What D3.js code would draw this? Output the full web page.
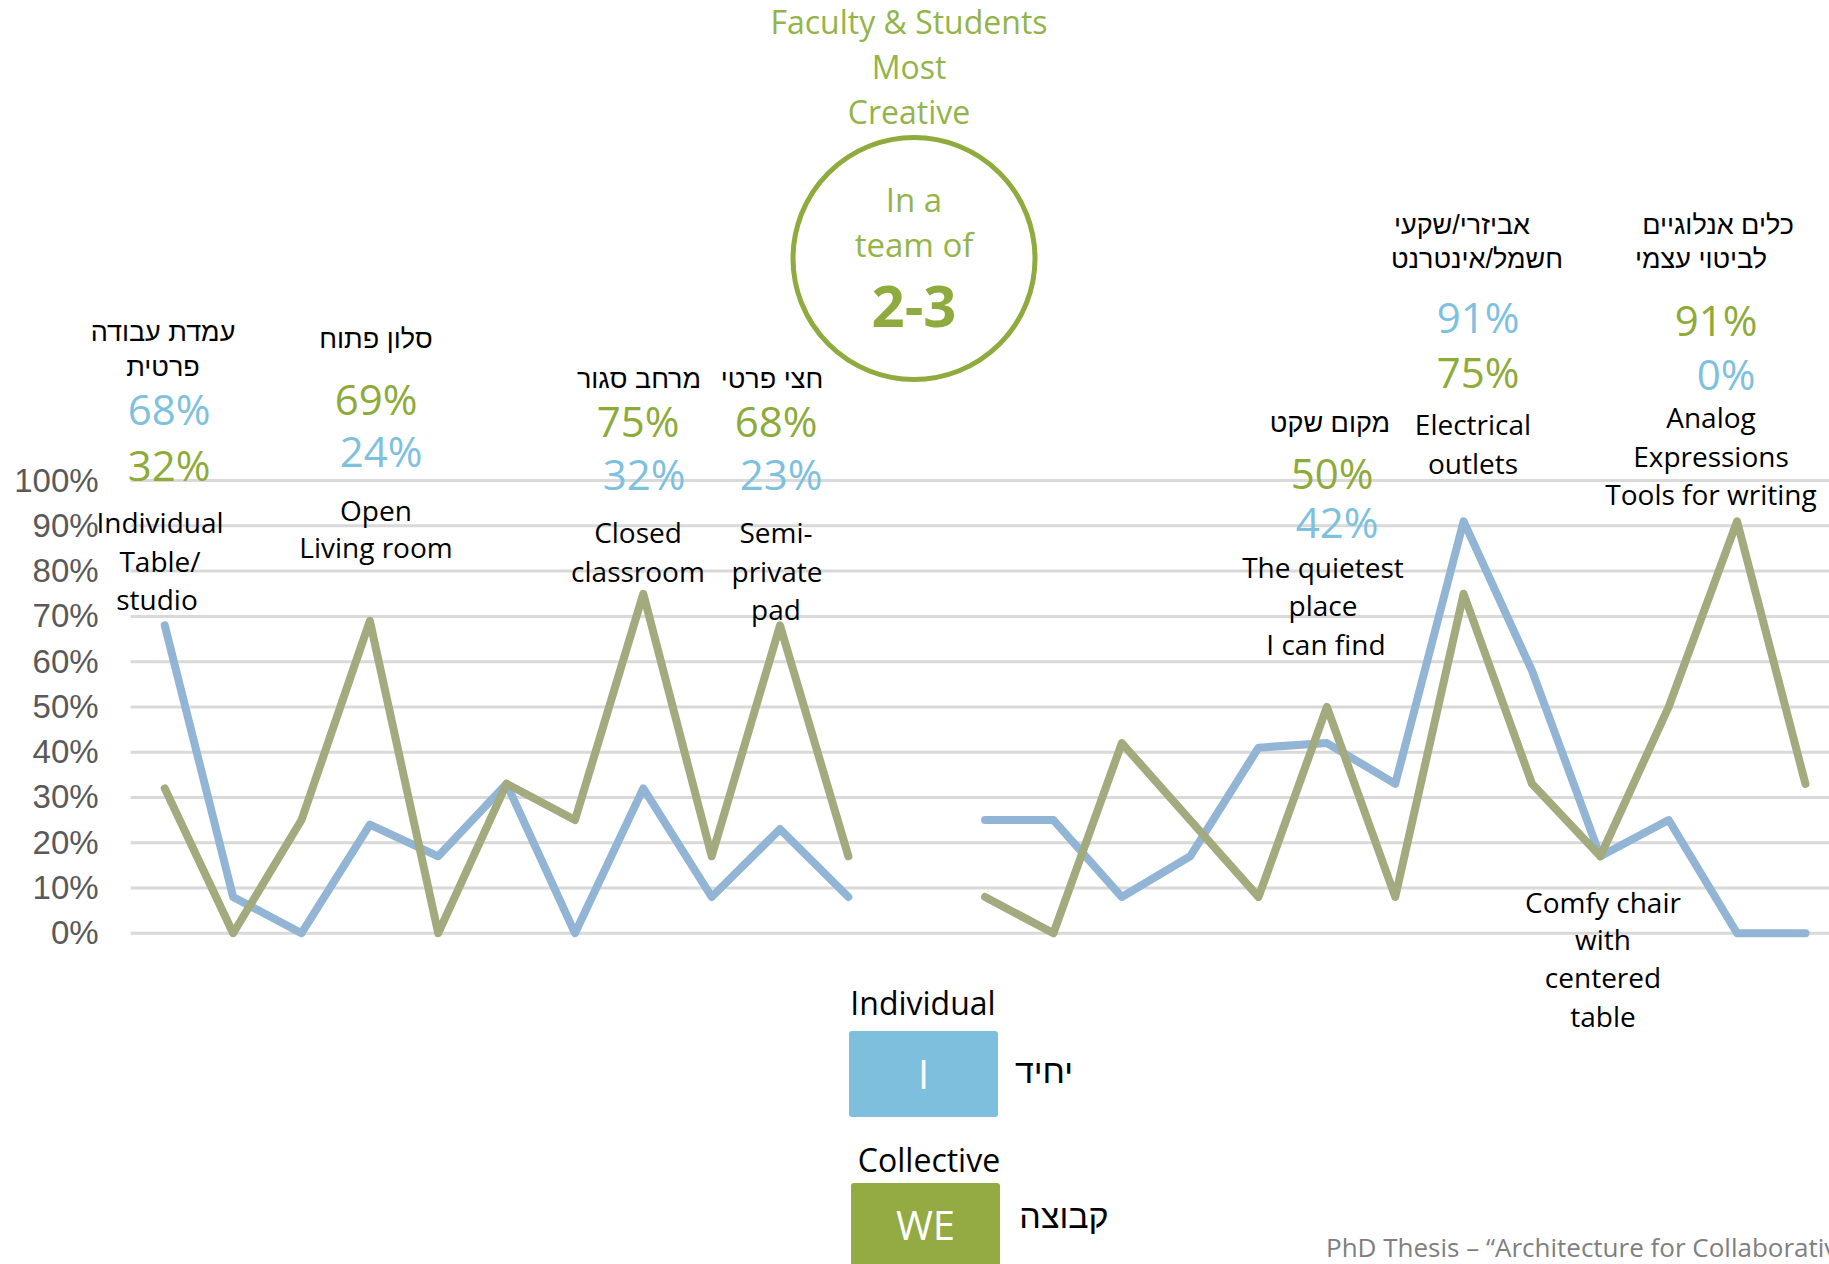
<!DOCTYPE html>
<html>
<head>
<meta charset="utf-8">
<script src="https://cdn.jsdelivr.net/npm/d3@7"></script>
<style>
  html, body { margin: 0; padding: 0; background: #fff; overflow: hidden; }
  svg { display: block; }
</style>
</head>
<body>
<svg id="chart" width="1829" height="1264"></svg>
<script>
// ---- data ---------------------------------------------------------------
// 25 response slots; slot 12 separates the two groups of spaces.
const categories = ["1","2","3","4","5","6","7","8","9","10","11","12","13",
                    "14","15","16","17","18","19","20","21","22","23","24","25"];
// Share of answers (%) – Individual ("I") and Collective ("WE")
const individual = [68, 8, 0, 24, 17, 33, 0, 32, 8, 23, 8, null,
                    25, 25, 8, 17, 41, 42, 33, 91, 58, 17, 25, 0, 0];
const collective = [32, 0, 25, 69, 0, 33, 25, 75, 17, 68, 17, null,
                    8, 0, 42, 25, 8, 50, 8, 75, 33, 17, 50, 91, 33];
const yTicks = [0, 10, 20, 30, 40, 50, 60, 70, 80, 90, 100];

// Highlighted spaces: slot index, Hebrew name, English name, which value is listed first
const spotSlots   = [0, 3, 7, 9, 17, 19, 23];
const spotHebrew  = [["עמדת עבודה", "פרטית"], ["סלון פתוח"], ["מרחב סגור"], ["חצי פרטי"],
                     ["מקום שקט"], ["אביזרי/שקעי", "חשמל/אינטרנט"], ["כלים אנלוגיים", "לביטוי עצמי"]];
const spotEnglish = [["Individual", "Table/", "studio"], ["Open", "Living room"],
                     ["Closed", "classroom"], ["Semi-", "private", "pad"],
                     ["The quietest", "place", "I can find"], ["Electrical", "outlets"],
                     ["Analog", "Expressions", "Tools for writing"]];
const spotFirst   = ["I", "WE", "WE", "WE", "WE", "I", "WE"];
const comfyLabel  = ["Comfy chair", "with", "centered", "table"];

const titleLines  = ["Faculty & Students", "Most", "Creative"];
const badgeLines  = ["In a", "team of"];
const badgeValue  = "2-3";
const legendItems = [
  { en: "Individual", he: "יחיד",  tag: "I"  },
  { en: "Collective", he: "קבוצה", tag: "WE" }
];
const footer = "PhD Thesis – “Architecture for Collaborative";

// ---- styles & layout ----------------------------------------------------
const C = {
  lineI: "#93b5d5", lineWE: "#a2aa7e",
  textI: "#7ec1df", textWE: "#8eab3a",
  title: "#93b448", ring: "#8fab3e",
  boxI: "#7fbfde", boxWE: "#94aa42",
  grid: "#d9d9d9", axis: "#595959", footer: "#7f7f7f"
};
const SANS = "'Open Sans', 'Noto Sans', sans-serif";
const HEB  = "'Liberation Sans', 'DejaVu Sans', sans-serif";

// Text anchors for each highlighted space (centre x, centre y)
const spotLayout = [
  { heb: [[163, 332], [163, 367]], pct: [[169, 408], [169, 464]], eng: [[160, 522], [160, 561], [157, 599]] },
  { heb: [[376, 339]],             pct: [[376, 398], [381, 450]], eng: [[376, 510], [376, 547]] },
  { heb: [[639, 379]],             pct: [[638, 420], [644, 473]], eng: [[638, 532], [638, 571]] },
  { heb: [[772, 379]],             pct: [[776, 420], [781, 473]], eng: [[776, 532], [777, 571], [776, 609]] },
  { heb: [[1330, 423]],            pct: [[1332, 472], [1337, 521]], eng: [[1323, 567], [1323, 605], [1326, 644]] },
  { heb: [[1462, 225], [1477, 259]], pct: [[1478, 316], [1478, 371]], eng: [[1473, 424], [1473, 463]] },
  { heb: [[1718, 225], [1701, 259]], pct: [[1716, 319], [1726, 373]], eng: [[1711, 417], [1711, 456], [1711, 494]] }
];
const comfyLayout = [[1603, 902], [1603, 939], [1603, 977], [1603, 1016]];

const plot = { left: 130.6, top: 480.6, bottom: 933.2, band: 68.36 };

const svg = d3.select("#chart");

const x = d3.scaleBand()
  .domain(categories)
  .range([plot.left, plot.left + plot.band * categories.length])
  .padding(0);
const y = d3.scaleLinear().domain([0, 100]).range([plot.bottom, plot.top]);
const cx = i => x(categories[i]) + x.bandwidth() / 2;

// ---- gridlines & axis ---------------------------------------------------
svg.append("g")
  .selectAll("line")
  .data(yTicks)
  .join("line")
  .attr("x1", plot.left).attr("x2", 1829)
  .attr("y1", d => y(d)).attr("y2", d => y(d))
  .attr("stroke", C.grid).attr("stroke-width", 3);

const axis = svg.append("g")
  .attr("transform", `translate(${plot.left},0)`)
  .call(d3.axisLeft(y).tickValues(yTicks).tickFormat(d => d + "%").tickSize(0).tickPadding(32));
axis.select(".domain").remove();
axis.selectAll("text")
  .attr("font-family", "'Liberation Sans', Arial, sans-serif")
  .attr("font-size", 33)
  .attr("fill", C.axis);

// ---- lines ----------------------------------------------------------------
const line = d3.line()
  .defined(d => d != null)
  .x((d, i) => cx(i))
  .y(d => y(d));

[[individual, C.lineI], [collective, C.lineWE]].forEach(([vals, col]) => {
  svg.append("path")
    .datum(vals)
    .attr("d", line)
    .attr("fill", "none")
    .attr("stroke", col)
    .attr("stroke-width", 8)
    .attr("stroke-linecap", "round")
    .attr("stroke-linejoin", "round");
});

// ---- annotations ----------------------------------------------------------
const ann = svg.append("g");
function txt(g, s, px, py, opts) {
  return g.append("text")
    .attr("x", px).attr("y", py)
    .attr("text-anchor", "middle")
    .attr("dominant-baseline", "central")
    .attr("font-family", opts.font || SANS)
    .attr("font-size", opts.size)
    .attr("font-weight", opts.weight || 400)
    .attr("fill", opts.fill || "#000")
    .attr("direction", opts.rtl ? "rtl" : null)
    .text(s);
}

spotSlots.forEach((slot, k) => {
  const L = spotLayout[k];
  spotHebrew[k].forEach((s, j) => txt(ann, s, L.heb[j][0], L.heb[j][1], { font: HEB, size: 27, rtl: true }));
  const order = spotFirst[k] === "I"
    ? [[individual[slot], C.textI], [collective[slot], C.textWE]]
    : [[collective[slot], C.textWE], [individual[slot], C.textI]];
  order.forEach(([v, col], j) => txt(ann, v + "%", L.pct[j][0], L.pct[j][1], { size: 42, fill: col }));
  spotEnglish[k].forEach((s, j) => txt(ann, s, L.eng[j][0], L.eng[j][1], { size: 28 }));
});
comfyLabel.forEach((s, j) => txt(ann, s, comfyLayout[j][0], comfyLayout[j][1], { size: 28 }));

// ---- heading & badge ------------------------------------------------------
const head = svg.append("g").attr("text-anchor", "middle").attr("font-family", SANS).attr("fill", C.title);
[34, 79, 124].forEach((by, j) => head.append("text").attr("x", 909).attr("y", by).attr("font-size", 32).text(titleLines[j]));

svg.append("circle")
  .attr("cx", 914).attr("cy", 258.5).attr("r", 121)
  .attr("fill", "none").attr("stroke", C.ring).attr("stroke-width", 5);
[212, 257].forEach((by, j) => head.append("text").attr("x", 914).attr("y", by).attr("font-size", 33).text(badgeLines[j]));
head.append("text").attr("x", 914).attr("y", 327).attr("font-size", 58).attr("font-weight", 700).attr("fill", "#8fab3e").text(badgeValue);

// ---- legend ---------------------------------------------------------------
const legendLayout = [
  { capX: 923, capY: 1015, box: [849, 1031, 149, 86], tagY: 1089, heX: 1044, heY: 1083, fill: C.boxI },
  { capX: 929, capY: 1172, box: [851, 1183, 149, 92], tagY: 1240, heX: 1064, heY: 1228, fill: C.boxWE }
];
const lg = svg.append("g");
legendItems.forEach((it, k) => {
  const L = legendLayout[k];
  lg.append("text").attr("x", L.capX).attr("y", L.capY).attr("text-anchor", "middle")
    .attr("font-family", SANS).attr("font-size", 32).attr("fill", "#000").text(it.en);
  lg.append("rect").attr("x", L.box[0]).attr("y", L.box[1]).attr("width", L.box[2]).attr("height", L.box[3])
    .attr("rx", 3).attr("fill", L.fill);
  lg.append("text").attr("x", L.box[0] + L.box[2] / 2).attr("y", L.tagY).attr("text-anchor", "middle")
    .attr("font-family", SANS).attr("font-size", 40).attr("fill", "#fff").text(it.tag);
  lg.append("text").attr("x", L.heX).attr("y", L.heY).attr("text-anchor", "middle").attr("direction", "rtl")
    .attr("font-family", HEB).attr("font-size", 34).attr("fill", "#000").text(it.he);
});

svg.append("text").attr("x", 1326).attr("y", 1257)
  .attr("font-family", SANS).attr("font-size", 26).attr("fill", C.footer).text(footer);
</script>
</body>
</html>
